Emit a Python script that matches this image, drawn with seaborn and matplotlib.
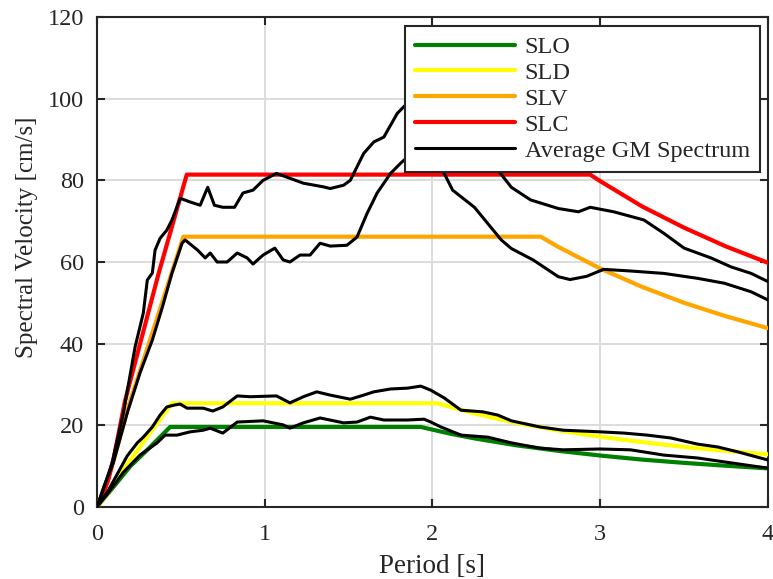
import numpy as np
import pandas as pd
import matplotlib
matplotlib.use("Agg")
import matplotlib.pyplot as plt
import seaborn as sns

# design spectra (period [s], spectral velocity [cm/s])
T_slo = [0, 0.1, 0.197, 0.3, 0.436, 1.93, 2.1, 2.25, 2.5, 2.75, 3.0, 3.25, 3.5, 3.75, 4.0]
Sv_slo = [0, 5, 9.9, 14, 19.6, 19.6, 18.0, 16.8, 15.1, 13.75, 12.6, 11.6, 10.8, 10.1, 9.45]

T_sld = [0, 0.05, 0.177, 0.446, 2.03, 2.25, 2.5, 2.75, 3.0, 3.25, 3.5, 3.75, 4.0]
Sv_sld = [0, 2.5, 10.3, 25.4, 25.4, 22.9, 20.6, 18.75, 17.2, 15.9, 14.7, 13.75, 12.9]

T_slv = [0, 0.05, 0.1, 0.187, 0.316, 0.515, 2.645, 2.75, 3.0, 3.25, 3.5, 3.75, 4.0]
Sv_slv = [0, 5, 11.5, 24.6, 40.9, 66.2, 66.2, 63.7, 58.4, 53.9, 50.0, 46.7, 43.8]

T_slc = [0, 0.03, 0.067, 0.1, 0.167, 0.366, 0.535, 2.94, 3.0, 3.25, 3.5, 3.75, 4.0]
Sv_slc = [0, 2.5, 6.6, 12, 26, 57, 81.4, 81.4, 79.8, 73.6, 68.4, 63.8, 59.8]

# average ground motion spectra
T_a = [0, 0.03, 0.09, 0.157, 0.227, 0.276, 0.30, 0.33, 0.346, 0.376, 0.416, 0.447, 0.496,
       0.555, 0.615, 0.66, 0.70, 0.75, 0.82, 0.87, 0.93, 0.99, 1.07, 1.15, 1.23, 1.35, 1.39,
       1.47, 1.51, 1.59, 1.65, 1.71, 1.79, 1.9, 2.0, 2.1, 2.25, 2.39, 2.47, 2.585, 2.75, 2.87,
       2.94, 3.08, 3.26, 3.38, 3.5, 3.66, 3.78, 3.9, 4.0]
Sv_a = [0, 3.4, 10.8, 23, 39.2, 47.5, 55.6, 57.3, 62.9, 65.8, 67.8, 70.3, 75.6,
        74.7, 73.9, 78.3, 73.9, 73.4, 73.4, 76.9, 77.6, 80, 81.7, 80.5, 79.3, 78.4, 78,
        78.8, 80, 86.6, 89.4, 90.6, 96.4, 101, 104, 100, 92, 82.5, 78.3, 75.2, 73.1, 72.3,
        73.4, 72.3, 70.3, 67, 63.4, 61, 58.8, 57.2, 55.2]

T_b = [0, 0.04, 0.097, 0.18, 0.256, 0.33, 0.39, 0.447, 0.507, 0.525, 0.6, 0.645, 0.675,
       0.716, 0.776, 0.836, 0.895, 0.93, 0.99, 1.06, 1.11, 1.15, 1.21, 1.27, 1.33, 1.39,
       1.49, 1.55, 1.61, 1.67, 1.75, 1.81, 1.9, 1.97, 2.06, 2.12, 2.25, 2.41, 2.47, 2.6,
       2.75, 2.82, 2.92, 3.02, 3.18, 3.38, 3.58, 3.74, 3.9, 4.0]
Sv_b = [0, 4.9, 10.8, 23, 32.8, 40.9, 49, 57.3, 64.6, 65.4, 62.9, 61, 62.2,
        60, 60, 62.2, 61, 59.5, 61.7, 63.4, 60.5, 60, 61.7, 61.7, 64.6, 63.9,
        64.1, 66.1, 71.9, 76.9, 81.7, 84.2, 87.5, 88, 82.5, 77.6, 73.4, 65.4, 63.3, 60.5,
        56.4, 55.7, 56.5, 58.2, 57.8, 57.2, 56, 54.8, 52.7, 50.7]

T_c = [0, 0.06, 0.12, 0.18, 0.24, 0.276, 0.33, 0.376, 0.416, 0.466, 0.496, 0.537, 0.633,
       0.69, 0.75, 0.836, 0.913, 1.07, 1.15, 1.23, 1.31, 1.39, 1.51, 1.59, 1.65, 1.75, 1.85,
       1.93, 1.99, 2.07, 2.17, 2.3, 2.39, 2.47, 2.64, 2.78, 3.0, 3.14, 3.28, 3.42, 3.58,
       3.7, 3.82, 4.0]
Sv_c = [0, 3.5, 8, 12.5, 15.7, 17.1, 19.6, 22.5, 24.5, 25, 25.2, 24.2, 24.2,
        23.5, 24.5, 27.2, 27, 27.2, 25.5, 27, 28.2, 27.4, 26.4, 27.4, 28.2, 28.9, 29.1,
        29.6, 28.6, 26.7, 23.7, 23.3, 22.5, 21.1, 19.6, 18.8, 18.4, 18.1, 17.6, 16.9, 15.4,
        14.7, 13.5, 11.5]

T_d = [0, 0.06, 0.157, 0.256, 0.358, 0.406, 0.477, 0.555, 0.633, 0.675, 0.75, 0.836,
       0.99, 1.11, 1.15, 1.23, 1.33, 1.47, 1.55, 1.63, 1.71, 1.85, 1.95, 1.99, 2.05, 2.17,
       2.33, 2.47, 2.64, 2.78, 3.0, 3.18, 3.38, 3.58, 3.78, 4.0]
Sv_d = [0, 3.0, 8.5, 12.7, 15.7, 17.6, 17.6, 18.4, 18.8, 19.3, 18.1, 20.8,
        21.1, 20.1, 19.3, 20.6, 21.8, 20.6, 20.8, 22, 21.3, 21.3, 21.5, 20.8, 19.6, 17.6,
        17.1, 15.7, 14.4, 14, 14.2, 14, 12.7, 12, 10.8, 9.5]

sns.set_theme(style="ticks")
plt.rcParams['font.family'] = ['Liberation Serif', 'DejaVu Serif']

fig = plt.figure(figsize=(7.73, 5.79), dpi=100)
ax = fig.add_axes([0.1255, 0.1244, 0.868, 0.8462])

design = [("SLO", T_slo, Sv_slo, "#008000"),
          ("SLD", T_sld, Sv_sld, "#ffff00"),
          ("SLV", T_slv, Sv_slv, "#ffa500"),
          ("SLC", T_slc, Sv_slc, "#ff0000")]
for name, t, sv, col in design:
    sns.lineplot(x=t, y=sv, ax=ax, color=col, lw=3, sort=False, estimator=None,
                 label=name, zorder=3)

gm = [(T_a, Sv_a), (T_b, Sv_b), (T_c, Sv_c), (T_d, Sv_d)]
for i, (t, sv) in enumerate(gm):
    sns.lineplot(x=t, y=sv, ax=ax, color="black", lw=2.2, sort=False, estimator=None,
                 label="Average GM Spectrum" if i == 0 else None, zorder=4)

ax.set_xlim(0, 4)
ax.set_ylim(0, 120)
ax.set_xticks([0, 1, 2, 3, 4])
ax.set_yticks(np.arange(0, 121, 20))
ax.grid(True, color="#dcdcdc", lw=1.4)
ax.set_axisbelow(True)
ax.tick_params(direction="in", length=6, width=1.5, labelsize=17.5, colors="#262626",
               top=True, right=True)
ax.tick_params(axis="x", pad=12)
ax.tick_params(axis="y", pad=9.5)
for s in ax.spines.values():
    s.set_color("#262626")
    s.set_linewidth(1.5)
ax.set_xlabel("Period [s]", fontsize=19.5, color="#262626")
ax.set_ylabel("Spectral Velocity [cm/s]", fontsize=18, color="#262626")
ax.xaxis.set_label_coords(0.499, -0.097)
ax.yaxis.set_label_coords(-0.088, 0.551)

leg = ax.legend(loc="upper right", bbox_to_anchor=(0.9885, 0.982), fontsize=17.5,
                frameon=True, fancybox=False, handlelength=4.1, handletextpad=0.4,
                labelspacing=0.16, borderpad=0.42, borderaxespad=0)
leg.get_frame().set_edgecolor("#262626")
leg.get_frame().set_linewidth(1.5)
leg.get_frame().set_alpha(1)
for h in leg.get_lines():
    h.set_linewidth(3)
leg.get_lines()[-1].set_linewidth(2.2)

fig.savefig("out.png", dpi=100)
